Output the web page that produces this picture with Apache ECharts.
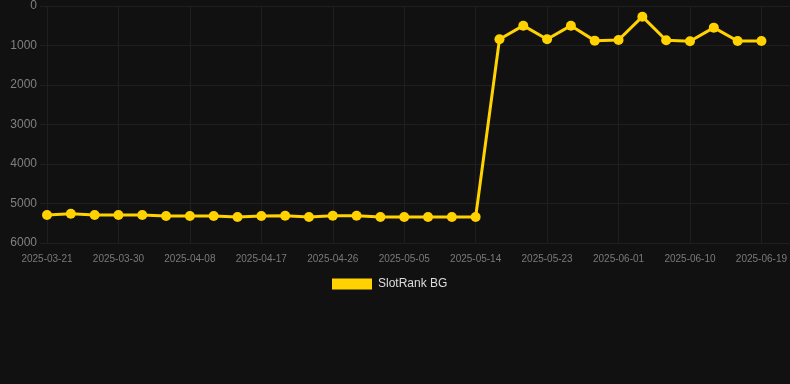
<!DOCTYPE html>
<html>
<head>
<meta charset="utf-8">
<script src="https://cdn.jsdelivr.net/npm/echarts@6/dist/echarts.min.js"></script>
<style>
  html, body { margin: 0; padding: 0; background: #111111; }
  #chart { width: 790px; height: 384px; }
</style>
</head>
<body>
<div id="chart"></div>
<script>
// data
const dates = [
    '2025-03-21', '2025-03-24', '2025-03-27', '2025-03-30', '2025-04-02', '2025-04-05',
    '2025-04-08', '2025-04-11', '2025-04-14', '2025-04-17', '2025-04-20', '2025-04-23',
    '2025-04-26', '2025-04-29', '2025-05-02', '2025-05-05', '2025-05-08', '2025-05-11',
    '2025-05-14', '2025-05-17', '2025-05-20', '2025-05-23', '2025-05-26', '2025-05-29',
    '2025-06-01', '2025-06-04', '2025-06-07', '2025-06-10', '2025-06-13', '2025-06-16',
    '2025-06-19'
];
const ranks = [
    5290, 5260, 5290, 5290, 5290, 5315, 5315, 5315, 5340, 5315,
    5310, 5340, 5310, 5310, 5340, 5340, 5340, 5340, 5340,
    842, 498, 842, 498, 877, 862, 270, 868, 893, 548, 885, 885
];
const tickDates = [
    '2025-03-21', '2025-03-30', '2025-04-08', '2025-04-17', '2025-04-26', '2025-05-05',
    '2025-05-14', '2025-05-23', '2025-06-01', '2025-06-10', '2025-06-19'
];
const seriesName = 'SlotRank BG';

// x is measured in days since the first date
const DAY = 24 * 3600 * 1000;
const t0 = Date.UTC(2025, 2, 21);
function toDay(s) {
    const p = s.split('-').map(Number);
    return Math.round((Date.UTC(p[0], p[1] - 1, p[2]) - t0) / DAY);
}
function pad(n) { return n < 10 ? '0' + n : '' + n; }
function fmt(day) {
    const d = new Date(t0 + Math.round(day) * DAY);
    return d.getUTCFullYear() + '-' + pad(d.getUTCMonth() + 1) + '-' + pad(d.getUTCDate());
}

const gridColor = '#1f1f1f';
const font = 'Liberation Sans, Arial, sans-serif';
const tickValues = tickDates.map(toDay);

const chart = echarts.init(document.getElementById('chart'));
chart.setOption({
    backgroundColor: '#111111',
    animation: false,
    grid: { left: 47, right: 0, top: 6, bottom: 141 },
    legend: {
        data: [seriesName],
        top: 278,
        left: 332,
        padding: 0,
        icon: 'rect',
        itemWidth: 40,
        itemHeight: 11,
        textStyle: { color: '#dddddd', fontSize: 12, fontFamily: font, padding: [0, 0, 0, 1] }
    },
    xAxis: {
        type: 'value',
        min: 0,
        max: toDay(dates[dates.length - 1]) + 3.52,
        axisLine: { show: false },
        axisTick: { show: true, length: 8, customValues: tickValues, lineStyle: { color: gridColor } },
        splitLine: { show: true, lineStyle: { color: gridColor } },
        axisLabel: {
            customValues: tickValues,
            formatter: (v) => fmt(v),
            color: '#7a7a7a',
            fontSize: 10,
            margin: 11,
            fontFamily: font
        }
    },
    yAxis: {
        type: 'value',
        inverse: true,
        min: 0,
        max: 6000,
        interval: 1000,
        axisLine: { show: false },
        axisTick: { show: true, length: 7, lineStyle: { color: gridColor } },
        splitLine: { show: true, lineStyle: { color: gridColor } },
        axisLabel: {
            formatter: (v) => String(v),
            color: '#808080',
            fontSize: 12,
            margin: 10,
            fontFamily: font
        }
    },
    series: [{
        name: seriesName,
        type: 'line',
        data: dates.map((d, i) => [toDay(d), ranks[i]]),
        symbol: 'circle',
        symbolSize: 10,
        showAllSymbol: true,
        lineStyle: { color: '#ffd200', width: 3 },
        itemStyle: { color: '#ffd200' }
    }]
});
</script>
</body>
</html>
